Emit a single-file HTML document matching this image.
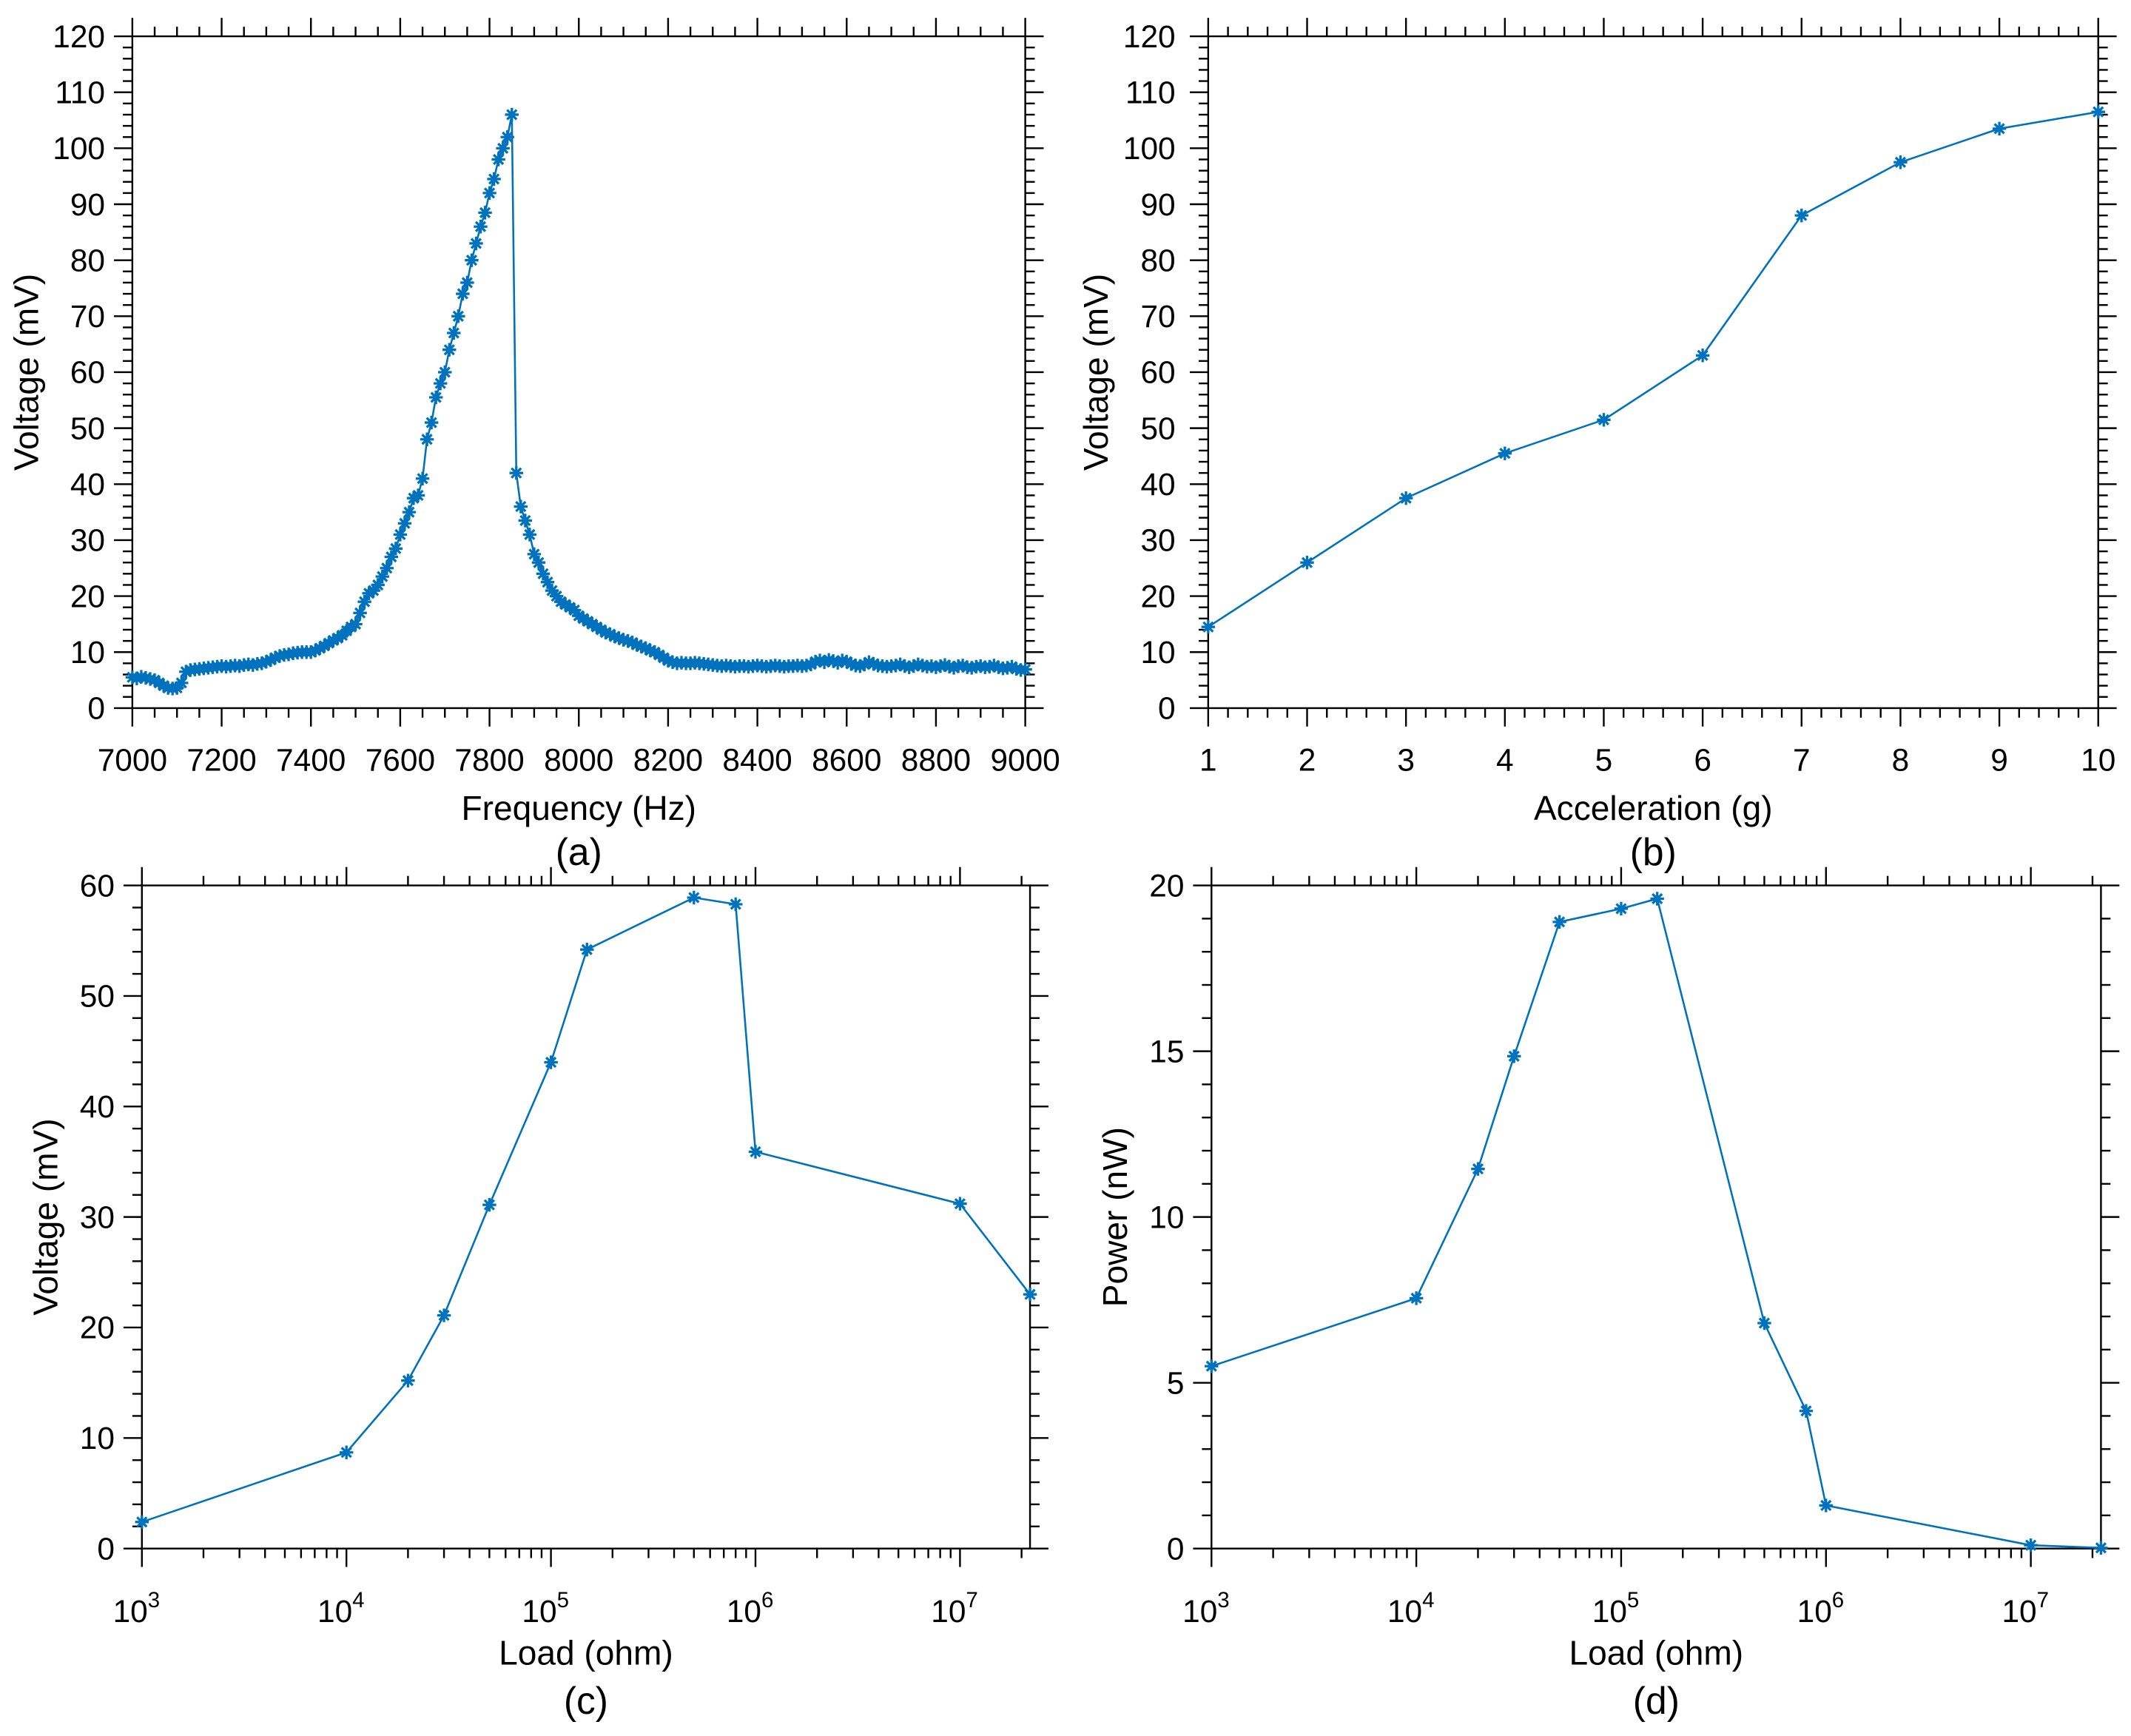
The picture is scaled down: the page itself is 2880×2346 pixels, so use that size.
<!DOCTYPE html>
<html><head><meta charset="utf-8"><style>
html,body{margin:0;padding:0;background:#fff}
svg{display:block}
text{font-family:"Liberation Sans",sans-serif;fill:#000}
</style></head><body>
<svg id="fig" xmlns="http://www.w3.org/2000/svg" width="2880" height="2346" viewBox="0 0 1562 1272.4"></svg>
<script>
// Panel (a) data: frequency sweep
const freqStart = 7000;
const freqStep = 10;
const voltsA = [5.5,5.3,5.6,5.4,5.2,5.0,4.5,4.0,3.6,3.5,
3.6,4.5,6.5,6.8,6.9,7.0,7.1,7.2,7.3,7.4,
7.5,7.4,7.5,7.6,7.5,7.7,7.8,7.7,7.9,8.0,
8.3,8.6,9.0,9.3,9.5,9.6,9.8,9.9,10.0,10.0,
10.0,10.3,10.7,11.1,11.6,12.1,12.5,13.0,13.8,14.5,
15,17,19,20.5,21,22,23.5,25,27,28.5,
31,33,35,37.5,38,41,48,51,55.5,58,
60,64,67,70,74,76,80,83,86,88.5,
92,94.5,98,100,102,106,42,36,33.5,31,
27.5,26,24,22.5,21,20,19,18.5,18,17.5,
16.5,16,15.5,15,14.5,14,13.5,13.2,12.8,12.5,
12.2,12,11.7,11.3,11,10.7,10.3,10,9.5,9,
8.5,8.2,8,8.1,8,8,8.1,8,7.9,7.8,
7.7,7.6,7.5,7.6,7.5,7.4,7.5,7.5,7.4,7.5,
7.6,7.5,7.4,7.5,7.6,7.5,7.4,7.5,7.5,7.6,
7.5,7.6,7.8,8.3,8.5,8.2,8.6,8.4,8.1,8.5,
8.3,7.9,7.6,7.5,7.8,8.2,7.9,7.6,7.5,7.4,
7.5,7.6,7.8,7.5,7.3,7.5,7.8,7.6,7.4,7.5,
7.3,7.5,7.7,7.4,7.2,7.5,7.6,7.3,7.2,7.4,
7.5,7.3,7.4,7.6,7.3,7.1,7.2,7.4,7.0,6.8,6.9];
// Panel (b)
const accel = [1,2,3,4,5,6,7,8,9,10];
const voltsB = [14.5,26,37.5,45.5,51.5,63,88,97.5,103.5,106.5];
// Panel (c)
const loadsC = [1e3,1e4,2e4,3e4,5e4,1e5,1.5e5,5e5,8e5,1e6,1e7,2.2e7];
const voltsC = [2.4,8.7,15.2,21.1,31.1,44,54.2,58.9,58.3,35.9,31.2,23];
// Panel (d)
const loadsD = [1e3,1e4,2e4,3e4,5e4,1e5,1.5e5,5e5,8e5,1e6,1e7,2.2e7];
const powerD = [5.5,7.55,11.45,14.85,18.9,19.3,19.6,6.8,4.15,1.3,0.1,0.02];
// Ticks
const yTicksAB = [0,10,20,30,40,50,60,70,80,90,100,110,120];
const xTicksA = [7000,7200,7400,7600,7800,8000,8200,8400,8600,8800,9000];
const xTicksB = [1,2,3,4,5,6,7,8,9,10];
const yTicksC = [0,10,20,30,40,50,60];
const yTicksD = [0,5,10,15,20];
const logDecades = [3,4,5,6,7];

const NS="http://www.w3.org/2000/svg";
const svg=document.getElementById('fig');
const BLUE="#0072BD";
function mk(tag,attrs,parent){const e=document.createElementNS(NS,tag);for(const k in attrs)e.setAttribute(k,attrs[k]);(parent||svg).appendChild(e);return e;}

function panel(cfg){
  const g=mk('g',{});
  
  
  const {x0,x1,y0,y1}=cfg;
  const sx=cfg.xlog?(v=>x0+(Math.log10(v)-cfg.xmin)/(cfg.xmax-cfg.xmin)*(x1-x0)):(v=>x0+(v-cfg.xmin)/(cfg.xmax-cfg.xmin)*(x1-x0));
  const sy=v=>y1-(v-cfg.ymin)/(cfg.ymax-cfg.ymin)*(y1-y0);
  const axes=mk('g',{stroke:'#000','stroke-width':1.3,fill:'none'},g);
  
  
  mk('path',{d:`M${x0} ${y0}H${x1}V${y1}H${x0}Z`},axes);
  const MJ=13.5,MN=7;
  const ymn=cfg.yminor;
  for(let v=cfg.ymin;v<=cfg.ymax+1e-9;v+=ymn){
    const isMaj=cfg.yticks.some(t=>Math.abs(t-v)<1e-6);
    const L=isMaj?MJ:MN,y=sy(v);
    mk('line',{x1:x0-L,y1:y,x2:x0,y2:y},axes);
    mk('line',{x1:x1,y1:y,x2:x1+L,y2:y},axes);
  }
  cfg.yticks.forEach(t=>{const tx=mk('text',{x:x0-cfg.ygap,y:sy(t)+8,'text-anchor':'end','font-size':23},g);tx.textContent=t;
    
    });
  if(cfg.xlog){
    logDecades.forEach(d=>{
      for(let m=1;m<10;m++){const v=m*Math.pow(10,d);if(Math.log10(v)>cfg.xmax+1e-9)break;
        const x=sx(v),L=m===1?MJ:MN;
        mk('line',{x1:x,y1:y1,x2:x,y2:y1+L},axes);
        mk('line',{x1:x,y1:y0-L,x2:x,y2:y0},axes);}
      const t=mk('text',{x:sx(Math.pow(10,d))-4,y:y1+54,'text-anchor':'middle','font-size':23},g);
      t.innerHTML=`10<tspan dy="-11" font-size="16">${d}</tspan>`;
      
      
    });
  } else {
    for(let v=cfg.xmin;v<=cfg.xmax+1e-9;v+=cfg.xminor){
      const isMaj=cfg.xticks.some(t=>Math.abs(t-v)<1e-6);const L=isMaj?MJ:MN,x=sx(v);
      mk('line',{x1:x,y1:y1,x2:x,y2:y1+L},axes);
      mk('line',{x1:x,y1:y0-L,x2:x,y2:y0},axes);
    }
    cfg.xticks.forEach(t=>{const tx=mk('text',{x:sx(t),y:y1+46,'text-anchor':'middle','font-size':23},g);tx.textContent=t;
      
      });
  }
  const xt=mk('text',{x:(x0+x1)/2,y:cfg.xtY,'text-anchor':'middle','font-size':25},g);xt.textContent=cfg.xlabel;
  
  
  const cap=mk('text',{x:(x0+x1)/2,y:cfg.capY,'text-anchor':'middle','font-size':28},g);cap.textContent=cfg.cap;
  
  
  const yc=(y0+y1)/2;
  const yt=mk('text',{x:cfg.ytX,y:yc,'text-anchor':'middle','font-size':25,transform:`rotate(-90 ${cfg.ytX} ${yc})`},g);yt.textContent=cfg.ylabel;
  
  
  const pts=cfg.xs.map((v,i)=>[sx(v),sy(cfg.ys[i])]);
  const ln=mk('polyline',{points:pts.map(p=>p.join(',')).join(' '),fill:'none',stroke:BLUE,'stroke-width':1.4},g);
  
  
  const s=5;
  pts.forEach(p=>{
    const m=mk('path',{d:`M${p[0]-s} ${p[1]}h${2*s}M${p[0]} ${p[1]-s}v${2*s}M${p[0]-s*0.7} ${p[1]-s*0.7}l${1.4*s} ${1.4*s}M${p[0]-s*0.7} ${p[1]+s*0.7}l${1.4*s} ${-1.4*s}`,stroke:BLUE,'stroke-width':1.8,fill:'none'},g);
    
    
  });
}
const freqs=voltsA.map((_,i)=>freqStart+i*freqStep);
panel({name:'panel-a',x0:97,x1:751.5,y0:26.6,y1:519,xmin:7000,xmax:9000,ymin:0,ymax:120,xticks:xTicksA,xminor:50,yticks:yTicksAB,yminor:2,ygap:20,xs:freqs,ys:voltsA,xlabel:'Frequency (Hz)',ylabel:'Voltage (mV)',cap:'(a)',xtY:601,capY:634,ytX:28});
panel({name:'panel-b',x0:885.6,x1:1538,y0:26.6,y1:519,xmin:1,xmax:10,ymin:0,ymax:120,xticks:xTicksB,xminor:0.2,yticks:yTicksAB,yminor:2,ygap:24,xs:accel,ys:voltsB,xlabel:'Acceleration (g)',ylabel:'Voltage (mV)',cap:'(b)',xtY:601,capY:634,ytX:812});
panel({name:'panel-c',x0:104,x1:755,y0:649,y1:1135,xlog:true,xmin:3,xmax:Math.log10(2.2e7),ymin:0,ymax:60,yticks:yTicksC,yminor:2,ygap:20,xs:loadsC,ys:voltsC,xlabel:'Load (ohm)',ylabel:'Voltage (mV)',cap:'(c)',xtY:1220,capY:1256,ytX:42});
panel({name:'panel-d',x0:888,x1:1540,y0:649,y1:1135,xlog:true,xmin:3,xmax:Math.log10(2.2e7),ymin:0,ymax:20,yticks:yTicksD,yminor:1,ygap:20,xs:loadsD,ys:powerD,xlabel:'Load (ohm)',ylabel:'Power (nW)',cap:'(d)',xtY:1220,capY:1256,ytX:826});
</script>
</body></html>
